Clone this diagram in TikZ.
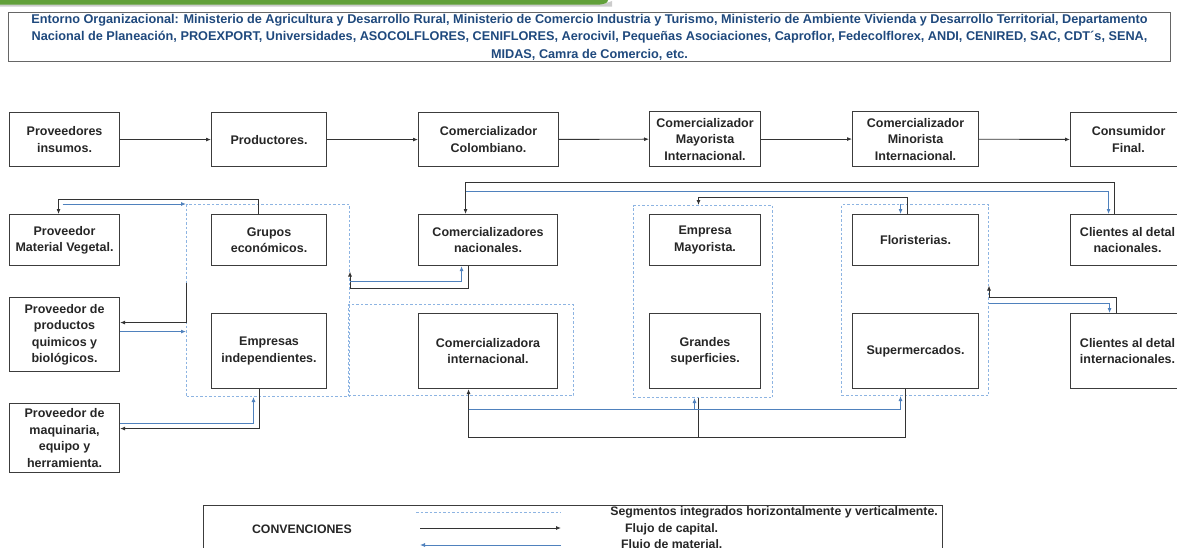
\documentclass[tikz,border=0pt]{standalone}
\usepackage{fontspec}
\setmainfont{Liberation Sans}
\usetikzlibrary{arrows.meta}
\definecolor{txtblue}{RGB}{31,73,125}
\definecolor{matblue}{RGB}{79,129,189}
\definecolor{dotblue}{RGB}{141,180,226}
\definecolor{barGreen}{RGB}{98,160,58}
\definecolor{boxgray}{RGB}{60,60,60}
\begin{document}
\begin{tikzpicture}[x=1pt,y=-1pt,
  box/.style={draw=boxgray, line width=1.1pt, fill=white, align=center, anchor=north west,
    inner sep=1pt, font=\bfseries\fontsize{12.5}{16.5}\selectfont, text=black!85},
  region/.style={draw=dotblue, dash pattern=on 2.5pt off 2pt, line width=1pt,
    anchor=north west, inner sep=0pt},
  capflow/.style={draw=black!80, line width=0.9pt, -{Latex[length=5pt,width=4pt]}},
  capline/.style={draw=black!80, line width=0.9pt},
  matflow/.style={draw=matblue, line width=0.9pt, -{Latex[length=5pt,width=4pt]}},
  legtext/.style={font=\bfseries\fontsize{12.3}{14}\selectfont, text=black!85, inner sep=0pt}
]
\useasboundingbox (0,0) rectangle (1177,547);
\clip (0,0) rectangle (1177,547);

% top green bar
\fill[black!20] (0,4) -- (600,4) to[out=0,in=200] (612,1) -- (612,6.5) -- (0,6.5) -- cycle;
\fill[barGreen] (0,0) -- (608,0) to[out=-90,in=10] (600,4.5) -- (0,4.5) -- cycle;

% banner
\node[draw=black!60, line width=1pt, minimum width=1162, minimum height=49, anchor=north west,
  inner sep=0pt, text=txtblue, align=center, font=\bfseries\fontsize{12.7}{17.5}\selectfont]
  (env) at (8,12) {Entorno Organizacional: Ministerio de Agricultura y Desarrollo Rural, Ministerio de Comercio Industria y Turismo, Ministerio de Ambiente Vivienda y Desarrollo Territorial, Departamento\\
  Nacional de Planeación, PROEXPORT, Universidades, ASOCOLFLORES, CENIFLORES, Aerocivil, Pequeñas Asociaciones, Caproflor, Fedecolflorex, ANDI, CENIRED, SAC, CDT´s, SENA,\\
  MIDAS, Camra de Comercio, etc.};

% integrated segments (dotted regions)
\node[region, minimum width=163, minimum height=192] (rA) at (186,204) {};
\node[region, minimum width=225, minimum height=91] (rB) at (348,304) {};
\node[region, minimum width=139, minimum height=192] (rC) at (633,205) {};
\node[region, minimum width=147, minimum height=191] (rD) at (841,204) {};

% row 1
\node[box, minimum width=110, minimum height=54] (pi) at (9,112) {Proveedores\\insumos.};
\node[box, minimum width=115, minimum height=54] (prod) at (211,112) {Productores.};
\node[box, minimum width=140, minimum height=54] (cc) at (418,112) {Comercializador\\Colombiano.};
\node[box, minimum width=111, minimum height=55] (cmay) at (649,111) {Comercializador\\Mayorista\\Internacional.};
\node[box, minimum width=126, minimum height=55] (cmin) at (852,111) {Comercializador\\Minorista\\Internacional.};
\node[box, minimum width=116, minimum height=54] (cf) at (1070,112) {Consumidor\\Final.};

% row 2
\node[box, minimum width=110, minimum height=51] (pmv) at (9,214) {Proveedor\\Material Vegetal.};
\node[box, minimum width=115, minimum height=51] (grupos) at (211,214) {Grupos\\económicos.};
\node[box, minimum width=139, minimum height=51] (cn) at (418,214) {Comercializadores\\nacionales.};
\node[box, minimum width=111, minimum height=51] (em) at (649,214) {Empresa\\Mayorista.};
\node[box, minimum width=126, minimum height=51] (flor) at (852,214) {Floristerias.};
\node[box, minimum width=114, minimum height=51] (cdn) at (1070,214) {Clientes al detal\\nacionales.};

% row 3
\node[box, minimum width=110, minimum height=74] (pq) at (9,297) {Proveedor de\\productos\\quimicos y\\biológicos.};
\node[box, minimum width=115, minimum height=75] (ei) at (211,313) {Empresas\\independientes.};
\node[box, minimum width=139, minimum height=75] (ci) at (418,313) {Comercializadora\\internacional.};
\node[box, minimum width=111, minimum height=75] (gs) at (649,313) {Grandes\\superficies.};
\node[box, minimum width=126, minimum height=75] (sup) at (852,313) {Supermercados.};
\node[box, minimum width=114, minimum height=75] (cdi) at (1070,313) {Clientes al detal\\internacionales.};

% row 4
\node[box, minimum width=110, minimum height=69] (pmaq) at (9,403) {Proveedor de\\maquinaria,\\equipo y\\herramienta.};

% main chain
\draw[capflow] (pi) -- (prod);
\draw[capflow] (prod) -- (cc);
\draw[capflow] (cc) -- (cmay);
\draw[capflow] (cmay) -- (cmin);
\draw[capflow] (cmin) -- (cf);

% left suppliers
\draw[capflow] ([xshift=-10.5]grupos.north) -- ++(0,-15) -| ([xshift=-6]pmv.north);
\path ([xshift=-2]pmv.north) ++(0,-10) coordinate (m1);
\draw[matflow] (m1) -- (m1 -| rA.west);
\draw[capflow] ([yshift=18]rA.west) |- ([yshift=12]pq.east);
\path ([yshift=3]pq.east) coordinate (q1);
\draw[matflow] (q1) -- (q1 -| rA.west);
\draw[capflow] ([xshift=-10]ei.south) |- ([yshift=9.5]pmaq.east);
\draw[matflow] ([yshift=14.5]pmaq.east) -| ([xshift=-14.5]rA.south);

% national traders
\draw[capflow] ([xshift=-19.5]cn.south) -- ++(0,22) -| ([yshift=29]rA.east);
\draw[matflow] ([yshift=19]rA.east) -| ([xshift=-26.5]cn.south);

% top loop
\draw[capflow] ([xshift=-13]cdn.north) -- ++(0,-32) -| ([xshift=-22.5]cn.north);
\path ([xshift=-22.5]cn.north) ++(0,-23) coordinate (m2);
\draw[matflow] (m2) -| ([xshift=-19]cdn.north);
\draw[capflow] ([xshift=-8]flor.north) -- ++(0,-17) -| ([xshift=-4.5]rC.north);
\path ([xshift=-15]flor.north) coordinate (f1);
\draw[matflow] (f1 |- rD.north) -- (f1);

% international retail clients
\draw[capflow] ([xshift=-11]cdi.north) -- ++(0,-16) -| ([yshift=14.5]rD.east);
\draw[matflow] ([yshift=-3.5]rD.east) -| ([xshift=-18]cdi.north);

% bottom loop
\draw[capflow] ([xshift=-10]sup.south) -- ++(0,48) -| ([xshift=-19.5]ci.south);
\draw[capline] ([xshift=-4.5]rC.south) -- ++(0,39);
\path ([xshift=-19.5]ci.south) ++(0,20) coordinate (m3);
\draw[matflow] (m3) -| ([xshift=-8.5]rC.south);
\draw[matflow] (m3) -| ([xshift=-14.5]rD.south);

% legend
\node[draw=boxgray, line width=1pt, minimum width=739, minimum height=70, anchor=north west, inner sep=0pt] (leg) at (203,505) {};
\node[legtext] (conv) at (302,529) {CONVENCIONES};
\coordinate (d1) at (416,512);
\coordinate (d2) at (561,512);
\draw[draw=dotblue, dash pattern=on 2.5pt off 2pt, line width=1pt] (d1) -- (d2);
\coordinate (c1) at (420,528);
\coordinate (c2) at (561,528);
\draw[capflow] (c1) -- (c2);
\coordinate (b1) at (561,545);
\coordinate (b2) at (420,545);
\draw[matflow] (b1) -- (b2);
\node[legtext, anchor=east] (l1) at (938,512) {Segmentos integrados horizontalmente y verticalmente.};
\node[legtext, anchor=west] (l2) at (625,529) {Flujo de capital.};
\node[legtext, anchor=west] (l3) at (621,545) {Flujo de material.};
\end{tikzpicture}
\end{document}
